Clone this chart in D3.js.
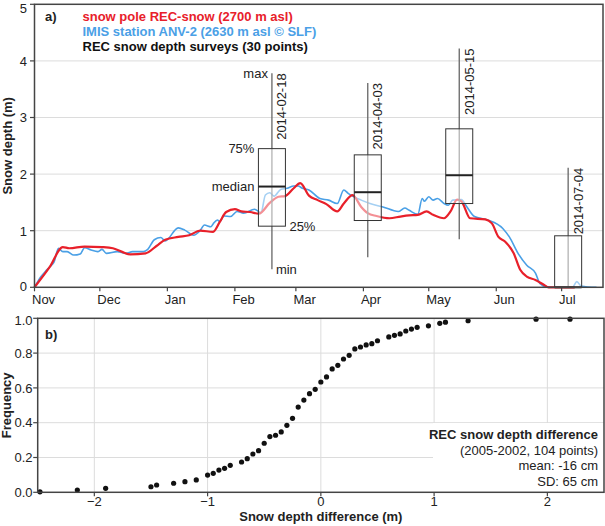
<!DOCTYPE html>
<html><head><meta charset="utf-8">
<script src="https://cdn.jsdelivr.net/npm/d3@7"></script>
<style>
body{margin:0;background:#fff}
text{font-family:"Liberation Sans",Arial,sans-serif;fill:#222}
</style>
</head><body>
<svg id="c" width="605" height="526"></svg>
<script>
// ---------- DATA ----------
const redDates = ["2013-11-01","2013-11-08","2013-11-14","2013-11-17","2013-11-24","2013-12-02","2013-12-07","2013-12-11","2013-12-15","2013-12-22","2013-12-27","2013-12-31","2014-01-06","2014-01-11","2014-01-16","2014-01-22","2014-01-25","2014-01-28","2014-02-01","2014-02-04","2014-02-08","2014-02-12","2014-02-17","2014-02-21","2014-02-24","2014-02-28","2014-03-03","2014-03-07","2014-03-11","2014-03-15","2014-03-20","2014-03-23","2014-03-27","2014-03-31","2014-04-03","2014-04-07","2014-04-13","2014-04-18","2014-04-22","2014-04-26","2014-04-30","2014-05-03","2014-05-08","2014-05-11","2014-05-14","2014-05-16","2014-05-20","2014-05-27","2014-05-30","2014-06-02","2014-06-05","2014-06-09","2014-06-12","2014-06-15","2014-06-19","2014-06-23","2014-06-25","2014-07-07"];
const redDepth = [0,0.36,0.71,0.69,0.72,0.71,0.69,0.63,0.58,0.60,0.73,0.84,0.89,0.92,1.00,0.98,1.15,1.33,1.38,1.34,1.33,1.30,1.49,1.60,1.61,1.75,1.84,1.62,1.54,1.47,1.34,1.48,1.63,1.42,1.31,1.26,1.22,1.25,1.27,1.28,1.34,1.28,1.22,1.34,1.55,1.52,1.22,1.20,1.13,0.89,0.81,0.60,0.31,0.19,0.13,0.04,0,0];

const blueDates = ["2013-11-01","2013-11-04","2013-11-06","2013-11-08","2013-11-10","2013-11-12","2013-11-14","2013-11-16","2013-11-19","2013-11-22","2013-11-24","2013-11-27","2013-11-30","2013-12-02","2013-12-04","2013-12-09","2013-12-13","2013-12-16","2013-12-21","2013-12-23","2013-12-26","2013-12-29","2013-12-31","2014-01-06","2014-01-09","2014-01-13","2014-01-16","2014-01-18","2014-01-21","2014-01-22","2014-01-24","2014-01-25","2014-01-27","2014-01-30","2014-02-02","2014-02-05","2014-02-10","2014-02-13","2014-02-15","2014-02-17","2014-02-19","2014-02-22","2014-02-25","2014-02-28","2014-03-02","2014-03-04","2014-03-07","2014-03-12","2014-03-16","2014-03-20","2014-03-23","2014-03-25","2014-03-31","2014-04-04","2014-04-10","2014-04-17","2014-04-20","2014-04-22","2014-04-26","2014-04-28","2014-04-29","2014-05-01","2014-05-03","2014-05-05","2014-05-08","2014-05-10","2014-05-12","2014-05-16","2014-05-18","2014-05-22","2014-05-28","2014-06-04","2014-06-07","2014-06-11","2014-06-15","2014-06-19","2014-06-21","2014-06-24","2014-07-06","2014-07-08","2014-07-10","2014-07-17"];
const blueDepth = [0,0.19,0.28,0.36,0.45,0.69,0.63,0.63,0.57,0.59,0.70,0.66,0.63,0.67,0.60,0.63,0.60,0.63,0.63,0.67,0.84,0.88,0.82,1.05,1.01,0.92,1.00,1.10,1.07,1.12,1.19,1.16,1.26,1.25,1.34,1.31,1.38,1.32,1.63,1.67,1.61,1.73,1.75,1.79,1.79,1.75,1.72,1.57,1.54,1.48,1.72,1.66,1.54,1.48,1.42,1.34,1.40,1.36,1.29,1.57,1.52,1.60,1.54,1.57,1.48,1.45,1.54,1.55,1.45,1.25,1.19,1.04,0.89,0.60,0.39,0.25,0.07,0.01,0,0.10,0.02,0];

const surveyDates  = ["2014-02-18","2014-04-03","2014-05-15","2014-07-04"];
const surveyMin    = [0.32,0.53,0.85,0];
const surveyQ1     = [1.08,1.18,1.48,0];
const surveyMedian = [1.78,1.68,1.98,0];
const surveyQ3     = [2.45,2.34,2.80,0.91];
const surveyMax    = [3.78,3.61,4.22,2.11];

const monthTicks  = ["2013-11-01","2013-12-01","2014-01-01","2014-02-01","2014-03-01","2014-04-01","2014-05-01","2014-06-01","2014-07-01"];
const monthLabels = ["Nov","Dec","Jan","Feb","Mar","Apr","May","Jun","Jul"];
const depthTicks  = [0,1,2,3,4,5];

const diffValues = [-2.48,-2.15,-1.9,-1.5,-1.45,-1.3,-1.2,-1.1,-1.0,-0.95,-0.9,-0.85,-0.8,-0.7,-0.65,-0.6,-0.55,-0.5,-0.45,-0.4,-0.35,-0.3,-0.25,-0.2,-0.15,-0.1,-0.05,0,0.05,0.1,0.15,0.2,0.25,0.3,0.35,0.4,0.45,0.5,0.6,0.65,0.7,0.75,0.8,0.85,0.95,1.05,1.1,1.3,1.9,2.2];
const diffFreq   = [0.003,0.013,0.023,0.032,0.042,0.052,0.061,0.071,0.099,0.109,0.128,0.138,0.155,0.174,0.193,0.220,0.239,0.282,0.320,0.328,0.347,0.385,0.425,0.490,0.530,0.567,0.592,0.634,0.663,0.709,0.730,0.766,0.787,0.824,0.835,0.847,0.854,0.871,0.893,0.902,0.910,0.927,0.938,0.948,0.957,0.971,0.978,0.986,0.995,0.995];
const diffTicks  = [-2,-1,0,1,2];
const freqTicks  = [0,0.2,0.4,0.6,0.8,1.0];

const legendLabels = ["snow pole REC-snow (2700 m asl)","IMIS station ANV-2 (2630 m asl © SLF)","REC snow depth surveys (30 points)"];
const noteLines = ["REC snow depth difference","(2005-2002, 104 points)","mean: -16 cm","SD: 65 cm"];

// ---------- STYLE ----------
const RED = "#e8202a", BLUE = "#4aa0e6", GRID = "#dcdcdc", FRAME = "#444";
const parse = d3.timeParse("%Y-%m-%d");
const svg = d3.select("#c");

// ---------- PANEL A ----------
const A = {l:34.5, r:603, t:4.3, b:287.3};
const x = d3.scaleTime().domain([parse("2013-11-01"), parse("2014-07-20")]).range([A.l, A.r]);
const y = d3.scaleLinear().domain([0,5]).range([A.b, A.t]);

const ga = svg.append("g");
ga.selectAll("line.grid").data(depthTicks.filter(d=>d>0 && d<5)).join("line")
  .attr("x1",A.l).attr("x2",A.r).attr("y1",d=>y(d)).attr("y2",d=>y(d))
  .attr("stroke",GRID).attr("stroke-width",1);

const line = d3.line().x(d=>x(d[0])).y(d=>y(d[1])).curve(d3.curveMonotoneX);
const blueData = blueDates.map((d,i)=>[parse(d), blueDepth[i]]);
const redData  = redDates.map((d,i)=>[parse(d), redDepth[i]]);
ga.append("path").attr("d",line(blueData)).attr("fill","none").attr("stroke",BLUE).attr("stroke-width",1.6).attr("stroke-linejoin","round");
ga.append("path").attr("d",line(redData)).attr("fill","none").attr("stroke",RED).attr("stroke-width",2.2).attr("stroke-linejoin","round");

// boxes
const boxW = 27;
const surveys = surveyDates.map((d,i)=>({d:parse(d), s:d, mn:surveyMin[i], q1:surveyQ1[i], md:surveyMedian[i], q3:surveyQ3[i], mx:surveyMax[i]}));
const gb = ga.selectAll("g.box").data(surveys).join("g");
gb.append("line").attr("x1",d=>x(d.d)).attr("x2",d=>x(d.d)).attr("y1",d=>y(d.mn)).attr("y2",d=>y(d.mx))
  .attr("stroke","#666").attr("stroke-width",1.3);
gb.append("rect").attr("x",d=>x(d.d)-boxW/2).attr("width",boxW)
  .attr("y",d=>y(d.q3)).attr("height",d=>y(d.q1)-y(d.q3))
  .attr("fill","#fff").attr("fill-opacity",0.5).attr("stroke","#333").attr("stroke-width",1);
gb.append("line").attr("x1",d=>x(d.d)-boxW/2).attr("x2",d=>x(d.d)+boxW/2).attr("y1",d=>y(d.md)).attr("y2",d=>y(d.md))
  .attr("stroke","#222").attr("stroke-width",2);
gb.append("text").attr("transform",d=>`translate(${x(d.d)+14.5},${y(d.mx)}) rotate(-90)`)
  .attr("text-anchor","end").attr("font-size",13).text(d=>d.s);

// box annotations for first survey
const s0 = surveys[0], cx0 = x(s0.d);
ga.append("text").attr("x",cx0-4).attr("y",y(s0.mx)+4.5).attr("text-anchor","end").attr("font-size",13).text("max");
ga.append("text").attr("x",cx0-boxW/2-4).attr("y",y(s0.q3)+4.5).attr("text-anchor","end").attr("font-size",13).text("75%");
ga.append("text").attr("x",cx0-boxW/2-4).attr("y",y(s0.md)+4.5).attr("text-anchor","end").attr("font-size",13).text("median");
ga.append("text").attr("x",cx0+boxW/2+4).attr("y",y(s0.q1)+4.5).attr("text-anchor","start").attr("font-size",13).text("25%");
ga.append("text").attr("x",cx0+4).attr("y",y(s0.mn)+4.5).attr("text-anchor","start").attr("font-size",13).text("min");

// frame & axes
ga.append("rect").attr("x",A.l).attr("y",A.t).attr("width",A.r-A.l).attr("height",A.b-A.t)
  .attr("fill","none").attr("stroke",FRAME).attr("stroke-width",1.5);
ga.selectAll("line.yt").data(depthTicks).join("line").attr("x1",A.l-4.5).attr("x2",A.l).attr("y1",d=>y(d)).attr("y2",d=>y(d)).attr("stroke",FRAME).attr("stroke-width",1.2);
ga.selectAll("text.yl").data(depthTicks).join("text").attr("x",27).attr("y",d=>Math.max(Math.min(y(d)+4.8,291.3),13)).attr("text-anchor","end").attr("font-size",13).text(d=>d);
const mt = monthTicks.map(parse);
ga.selectAll("line.xt").data(mt).join("line").attr("x1",d=>x(d)).attr("x2",d=>x(d)).attr("y1",A.b).attr("y2",A.b+4).attr("stroke",FRAME).attr("stroke-width",1.2);
ga.selectAll("text.xl").data(mt).join("text").attr("x",d=>x(d)-2.5).attr("y",303.5).attr("font-size",13).text((d,i)=>monthLabels[i]);
ga.append("text").attr("transform",`translate(12,${(A.t+A.b)/2}) rotate(-90)`).attr("text-anchor","middle")
  .attr("font-size",13).attr("font-weight","bold").text("Snow depth (m)");
ga.append("text").attr("x",45).attr("y",20.5).attr("font-size",13).attr("font-weight","bold").text("a)");
const legColors = [RED, BLUE, "#111"];
ga.selectAll("text.leg").data(legendLabels).join("text").attr("x",82.5).attr("y",(d,i)=>20.5+i*15.3)
  .attr("font-size",13).attr("font-weight","bold").style("fill",(d,i)=>legColors[i]).text(d=>d);

// ---------- PANEL B ----------
const B = {l:37.7, r:604, t:318.3, b:492.3};
const xb = d3.scaleLinear().domain([-2.5,2.5]).range([B.l,B.r]);
const yb = d3.scaleLinear().domain([0,1]).range([B.b,B.t]);
const gbb = svg.append("g");
gbb.selectAll("line.hg").data(freqTicks.filter(d=>d>0&&d<1)).join("line")
  .attr("x1",B.l).attr("x2",B.r).attr("y1",d=>yb(d)).attr("y2",d=>yb(d)).attr("stroke",GRID).attr("stroke-width",1);
gbb.selectAll("line.vg").data(diffTicks).join("line")
  .attr("x1",d=>xb(d)).attr("x2",d=>xb(d)).attr("y1",B.t).attr("y2",B.b).attr("stroke",GRID).attr("stroke-width",1);
gbb.append("rect").attr("x",433).attr("y",423).attr("width",B.r-433).attr("height",B.b-423).attr("fill","#fff");
gbb.selectAll("circle").data(diffValues).join("circle").attr("cx",d=>xb(d)).attr("cy",(d,i)=>yb(diffFreq[i])).attr("r",2.6).attr("fill","#111");
gbb.append("rect").attr("x",B.l).attr("y",B.t).attr("width",B.r-B.l).attr("height",B.b-B.t)
  .attr("fill","none").attr("stroke",FRAME).attr("stroke-width",1.5);
gbb.selectAll("line.yt").data(freqTicks).join("line").attr("x1",B.l-4.5).attr("x2",B.l).attr("y1",d=>yb(d)).attr("y2",d=>yb(d)).attr("stroke",FRAME).attr("stroke-width",1.2);
gbb.selectAll("text.yl").data(freqTicks).join("text").attr("x",32.5).attr("y",d=>Math.max(yb(d)+4.6,324.5)).attr("text-anchor","end").attr("font-size",13).text(d=>d.toFixed(1));
gbb.selectAll("line.xt").data(diffTicks).join("line").attr("x1",d=>xb(d)).attr("x2",d=>xb(d)).attr("y1",B.b).attr("y2",B.b+4).attr("stroke",FRAME).attr("stroke-width",1.2);
gbb.selectAll("text.xl").data(diffTicks).join("text").attr("x",d=>xb(d)).attr("y",506).attr("text-anchor","middle").attr("font-size",13).text(d=>d<0?"\u2212"+Math.abs(d):d);
gbb.append("text").attr("x",(B.l+B.r)/2).attr("y",520.5).attr("text-anchor","middle").attr("font-size",13).attr("font-weight","bold").text("Snow depth difference (m)");
gbb.append("text").attr("transform",`translate(11,${(B.t+B.b)/2}) rotate(-90)`).attr("text-anchor","middle")
  .attr("font-size",13).attr("font-weight","bold").text("Frequency");
gbb.append("text").attr("x",45).attr("y",339).attr("font-size",13).attr("font-weight","bold").text("b)");
gbb.selectAll("text.note").data(noteLines).join("text").attr("x",598).attr("y",(d,i)=>439+i*15.6)
  .attr("text-anchor","end").attr("font-size",13).attr("font-weight",(d,i)=>i===0?"bold":"normal").text(d=>d);
</script>
</body></html>
